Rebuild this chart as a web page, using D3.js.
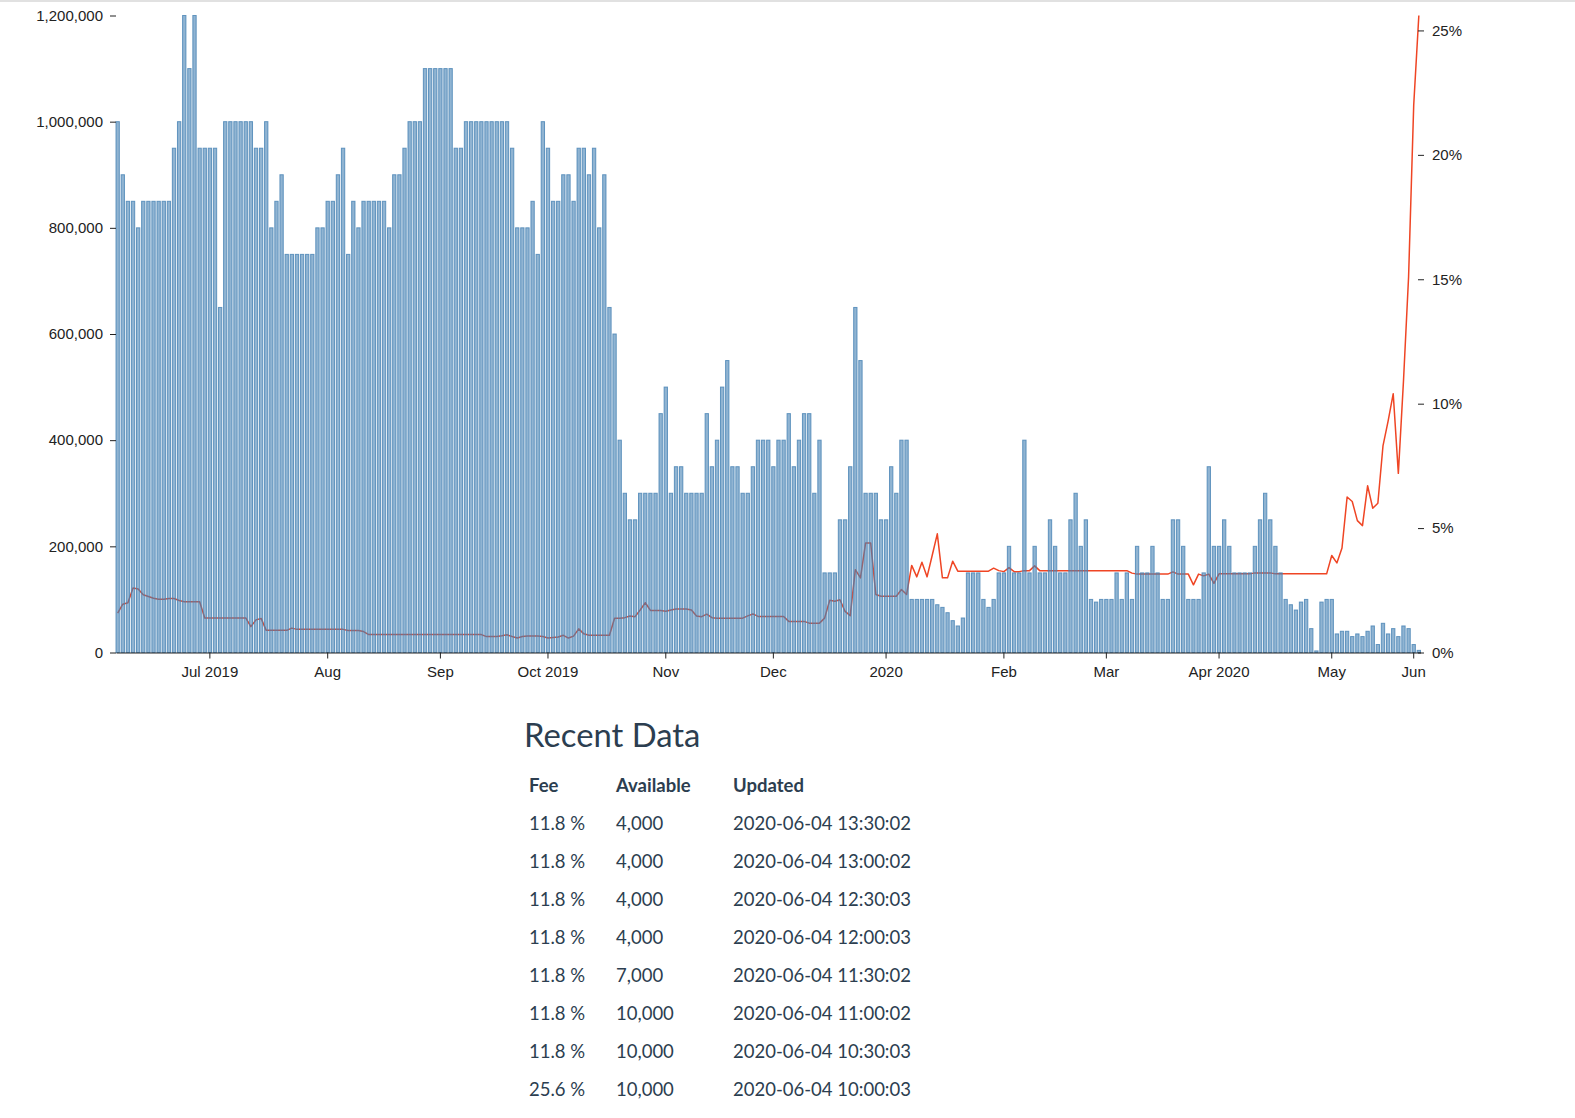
<!DOCTYPE html>
<html>
<head>
<meta charset="utf-8">
<title>Fee and availability</title>
<script src="https://cdnjs.cloudflare.com/ajax/libs/d3/7.8.5/d3.min.js"></script>
<style>
  body { margin:0; background:#fff; }
  #chart { position:absolute; left:0; top:0; }
  .axis text { font-family:"Liberation Sans", Arial, sans-serif; font-size:15px; fill:#222; }
  .axis line, .axis path { stroke:#222; }
  #recent { position:absolute; left:522px; top:716px; color:#2c3e50; font-family:Lato, sans-serif; }
  #recent h2 { margin:0 0 0 2px; font-size:32.8px; font-weight:400; line-height:38.4px; }
  #recent table { margin-top:11.5px; border-collapse:collapse; table-layout:fixed; font-size:18.5px; }
  #recent th, #recent td { text-align:left; padding:0 7px; height:38px; line-height:38px; white-space:nowrap; }
  #recent th { font-weight:700; font-size:18.5px; }
</style>
</head>
<body>
<div id="chart"></div>
<script>
// categories: one bar per trading day, weekends dropped
var firstDay = "2019-06-05";
var lastDay = "2020-06-04";
var skippedDays = ["2020-05-25","2020-05-26","2020-05-27","2020-05-28","2020-05-29","2020-06-02","2020-06-03"];

// shares available, one per day
var available = [
  // Jun 2019
  1000000, 900000, 850000, 850000, 800000, 850000, 850000, 850000, 850000, 850000, 850000, 950000, 1000000, 1200000, 1100000, 1200000, 950000, 950000,
  // Jul
  950000, 950000, 650000, 1000000, 1000000, 1000000, 1000000, 1000000, 1000000, 950000, 950000, 1000000, 800000, 850000, 900000, 750000, 750000, 750000, 750000, 750000, 750000, 800000, 800000,
  // Aug
  850000, 850000, 900000, 950000, 750000, 850000, 800000, 850000, 850000, 850000, 850000, 850000, 800000, 900000, 900000, 950000, 1000000, 1000000, 1000000, 1100000, 1100000, 1100000,
  // Sep
  1100000, 1100000, 1100000, 950000, 950000, 1000000, 1000000, 1000000, 1000000, 1000000, 1000000, 1000000, 1000000, 1000000, 950000, 800000, 800000, 800000, 850000, 750000, 1000000,
  // Oct
  950000, 850000, 850000, 900000, 900000, 850000, 950000, 950000, 900000, 950000, 800000, 900000, 650000, 600000, 400000, 300000, 250000, 250000, 300000, 300000, 300000, 300000, 450000,
  // Nov
  500000, 300000, 350000, 350000, 300000, 300000, 300000, 300000, 450000, 350000, 400000, 500000, 550000, 350000, 350000, 300000, 300000, 350000, 400000, 400000, 400000,
  // Dec
  350000, 400000, 400000, 450000, 350000, 400000, 450000, 450000, 300000, 400000, 150000, 150000, 150000, 250000, 250000, 350000, 650000, 550000, 300000, 300000, 300000, 250000,
  // Jan 2020
  250000, 350000, 300000, 400000, 400000, 100000, 100000, 100000, 100000, 100000, 90000, 85000, 75000, 60000, 50000, 65000, 150000, 150000, 150000, 100000, 85000, 100000, 150000,
  // Feb
  150000, 200000, 150000, 150000, 400000, 150000, 200000, 150000, 150000, 250000, 200000, 150000, 150000, 250000, 300000, 200000, 250000, 100000, 95000, 100000,
  // Mar
  100000, 100000, 150000, 100000, 150000, 100000, 200000, 150000, 150000, 200000, 150000, 100000, 100000, 250000, 250000, 200000, 100000, 100000, 100000, 150000, 350000, 200000,
  // Apr
  200000, 250000, 200000, 150000, 150000, 150000, 150000, 200000, 250000, 300000, 250000, 200000, 150000, 100000, 90000, 80000, 95000, 100000, 45000, 3000, 95000, 100000,
  // May
  100000, 35000, 40000, 40000, 30000, 35000, 30000, 40000, 50000, 15000, 55000, 35000, 45000, 30000, 50000, 45000,
  // Jun
  15000, 4000
];

// borrow fee in percent, one per day
var feePct = [
  // Jun 2019
  1.58, 1.94, 2.0, 2.59, 2.55, 2.32, 2.25, 2.18, 2.14, 2.14, 2.17, 2.17, 2.09, 2.04, 2.04, 2.04, 2.04, 1.39,
  // Jul
  1.39, 1.39, 1.39, 1.39, 1.39, 1.39, 1.39, 1.39, 1.04, 1.31, 1.37, 0.89, 0.89, 0.89, 0.89, 0.89, 0.98, 0.93, 0.93, 0.93, 0.93, 0.93, 0.93,
  // Aug
  0.93, 0.93, 0.93, 0.93, 0.88, 0.88, 0.88, 0.84, 0.72, 0.72, 0.72, 0.72, 0.72, 0.72, 0.72, 0.72, 0.72, 0.72, 0.72, 0.72, 0.72, 0.72,
  // Sep
  0.72, 0.72, 0.72, 0.72, 0.72, 0.72, 0.72, 0.72, 0.72, 0.64, 0.64, 0.64, 0.67, 0.71, 0.64, 0.58, 0.64, 0.66, 0.66, 0.66, 0.64,
  // Oct
  0.58, 0.60, 0.62, 0.69, 0.58, 0.66, 0.95, 0.75, 0.69, 0.69, 0.69, 0.69, 0.69, 1.38, 1.38, 1.40, 1.47, 1.44, 1.71, 2.0, 1.69, 1.69, 1.69,
  // Nov
  1.66, 1.71, 1.75, 1.75, 1.75, 1.71, 1.47, 1.44, 1.54, 1.40, 1.38, 1.38, 1.38, 1.38, 1.38, 1.38, 1.47, 1.55, 1.45, 1.45, 1.45,
  // Dec
  1.45, 1.45, 1.45, 1.25, 1.25, 1.25, 1.25, 1.18, 1.18, 1.18, 1.38, 2.10, 2.06, 2.12, 1.65, 1.48, 3.33, 3.0, 4.4, 4.4, 2.33, 2.26,
  // Jan 2020
  2.26, 2.26, 2.26, 2.53, 2.33, 3.5, 3.04, 3.63, 3.04, 3.9, 4.77, 3.0, 3.0, 3.67, 3.27, 3.27, 3.27, 3.27, 3.27, 3.27, 3.27, 3.39, 3.29,
  // Feb
  3.25, 3.41, 3.25, 3.25, 3.29, 3.29, 3.48, 3.29, 3.29, 3.29, 3.29, 3.29, 3.29, 3.29, 3.29, 3.29, 3.29, 3.29, 3.29, 3.29,
  // Mar
  3.29, 3.29, 3.29, 3.29, 3.29, 3.19, 3.15, 3.15, 3.15, 3.15, 3.15, 3.15, 3.15, 3.24, 3.15, 3.15, 3.15, 2.72, 3.15, 3.08, 3.15, 2.78,
  // Apr
  3.16, 3.16, 3.16, 3.16, 3.16, 3.16, 3.16, 3.2, 3.2, 3.2, 3.2, 3.16, 3.16, 3.16, 3.16, 3.16, 3.16, 3.16, 3.16, 3.16, 3.16, 3.16,
  // May
  3.9, 3.6, 4.2, 6.25, 6.07, 5.3, 5.1, 6.7, 5.8, 6.0, 8.3, 9.3, 10.4, 7.2, 10.9, 15.1,
  // Jun
  22.0, 25.6
];

var tickLabels = ["Jul 2019", "Aug", "Sep", "Oct 2019", "Nov", "Dec", "2020", "Feb", "Mar", "Apr 2020", "May", "Jun"];

// latest snapshots for the table
var recentFee = [11.8, 11.8, 11.8, 11.8, 11.8, 11.8, 11.8, 25.6];
var recentAvailable = [4000, 4000, 4000, 4000, 7000, 10000, 10000, 10000];
var recentUpdated = ["2020-06-04 13:30:02", "2020-06-04 13:00:02", "2020-06-04 12:30:03", "2020-06-04 12:00:03",
                     "2020-06-04 11:30:02", "2020-06-04 11:00:02", "2020-06-04 10:30:03", "2020-06-04 10:00:03"];

var parseDay = d3.timeParse("%Y-%m-%d");
var fmtDay = d3.timeFormat("%Y-%m-%d");

var days = d3.timeDay.range(parseDay(firstDay), d3.timeDay.offset(parseDay(lastDay), 1))
  .filter(function(d){
    return d.getDay() !== 0 && d.getDay() !== 6 && skippedDays.indexOf(fmtDay(d)) < 0;
  });

var rows = days.map(function(d, i){
  return {day: fmtDay(d), date: d, available: available[i], fee: feePct[i]};
});

var FeeChart = function(opts){
  this.element = opts.elem;
  this.data = opts.data;
  this.tickLabels = opts.tickLabels;
}

FeeChart.prototype.draw = function(){
  this.margin = {top:15.5, left:116};
  this.width = 1304.5;
  this.height = 637;

  var svg = d3.select(this.element).append('svg')
    .attr('width', 1575)
    .attr('height', 705);

  // thin grey rule along the top of the page
  svg.append('rect')
    .attr('width', 1575)
    .attr('height', 2)
    .attr('fill', '#e1e1e1');

  this.plot = svg.append('g')
    .attr('transform', 'translate(' + this.margin.left + ',' + this.margin.top + ')');

  this.createScales();
  this.addLine();
  this.addRects();
  this.addAxes();
}

FeeChart.prototype.createScales = function(){
  this.x = d3.scaleBand()
    .domain(this.data.map(function(d){ return d.day; }))
    .range([0, this.width])
    .paddingInner(0.35)
    .paddingOuter(0);
  this.yAvail = d3.scaleLinear()
    .domain([0, d3.max(this.data, function(d){ return d.available; })])
    .range([this.height, 0]);
  this.yFee = d3.scaleLinear()
    .domain([0, d3.max(this.data, function(d){ return d.fee; })])
    .range([this.height, 0]);
}

FeeChart.prototype.addLine = function(){
  var self = this;
  var lineGen = d3.line()
    .x(function(d){ return self.x(d.day) + self.x.bandwidth() / 2; })
    .y(function(d){ return self.yFee(d.fee); });

  this.plot.append('path')
    .attr('class', 'fee-line')
    .attr('d', lineGen(this.data))
    .attr('fill', 'none')
    .attr('stroke', '#ef4524')
    .attr('stroke-width', 1.5)
    .attr('stroke-linejoin', 'round');
}

FeeChart.prototype.addRects = function(){
  var self = this;
  this.plot.selectAll('rect.avail')
    .data(this.data)
    .enter()
    .append('rect')
    .attr('class', 'avail')
    .attr('x', function(d){ return self.x(d.day); })
    .attr('y', function(d){ return self.yAvail(d.available); })
    .attr('width', this.x.bandwidth())
    .attr('height', function(d){ return self.height - self.yAvail(d.available); })
    .attr('fill', 'steelblue')
    .attr('fill-opacity', 0.6)
    .attr('stroke', 'steelblue')
    .attr('stroke-opacity', 0.8)
    .attr('stroke-width', 1);
}

FeeChart.prototype.addAxes = function(){
  var self = this;
  var monthStarts = this.data.filter(function(d, i, arr){
    return i > 0 && d.date.getMonth() !== arr[i - 1].date.getMonth();
  }).map(function(d){ return d.day; });

  var xAxis = d3.axisBottom(this.x)
    .tickValues(monthStarts)
    .tickFormat(function(d, i){ return self.tickLabels[i]; })
    .tickSizeOuter(0)
    .tickPadding(8);
  this.plot.append('g')
    .attr('class', 'axis x-axis')
    .attr('transform', 'translate(0,' + this.height + ')')
    .call(xAxis);

  var yLeft = d3.axisLeft(this.yAvail)
    .ticks(6)
    .tickPadding(7)
    .tickFormat(d3.format(','));
  this.plot.append('g')
    .attr('class', 'axis y-axis-avail')
    .call(yLeft)
    .call(function(g){ g.select('.domain').remove(); });

  var yRight = d3.axisRight(this.yFee)
    .ticks(5)
    .tickPadding(8)
    .tickFormat(function(d){ return d + '%'; });
  this.plot.append('g')
    .attr('class', 'axis y-axis-fee')
    .attr('transform', 'translate(' + (this.width - 2.5) + ',0)')
    .call(yRight)
    .call(function(g){ g.select('.domain').remove(); });
}

var chart = new FeeChart({
  elem: document.getElementById('chart'),
  data: rows,
  tickLabels: tickLabels
});
chart.draw();

// recent data table
var box = d3.select('body').append('div').attr('id', 'recent');
box.append('h2').text('Recent Data');
var table = box.append('table');
var cols = table.append('colgroup');
cols.append('col').style('width', '87px');
cols.append('col').style('width', '117px');
cols.append('col').style('width', '260px');

table.append('thead').append('tr')
  .selectAll('th')
  .data(['Fee', 'Available', 'Updated'])
  .enter()
  .append('th')
  .text(function(d){ return d; });

var fmtAvail = d3.format(',');
table.append('tbody')
  .selectAll('tr')
  .data(recentUpdated)
  .enter()
  .append('tr')
  .selectAll('td')
  .data(function(d, i){
    return [recentFee[i].toFixed(1) + ' %', fmtAvail(recentAvailable[i]), d];
  })
  .enter()
  .append('td')
  .text(function(d){ return d; });
</script>
</body>
</html>
